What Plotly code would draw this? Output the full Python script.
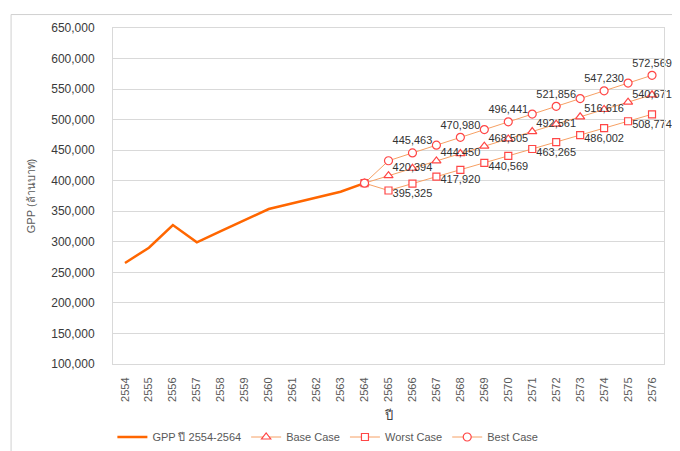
import plotly.graph_objects as go

years_hist = [str(y) for y in range(2554, 2565)]
gpp_hist = [265300, 290400, 327500, 299200, 317700, 335700, 353700, 363000, 372900, 382000, 396000]

years_proj = [str(y) for y in range(2564, 2577)]
base_case = [396000, 408360, 420394, 432420, 444450, 456480, 468505, 480530, 492561, 504590, 516616, 528640, 540671]
worst_case = [396000, 384000, 395325, 406620, 417920, 429240, 440569, 451920, 463265, 474630, 486002, 497390, 508774]
best_case = [396000, 432700, 445463, 458220, 470980, 483710, 496441, 509150, 521856, 534540, 547230, 559900, 572569]

all_years = [str(y) for y in range(2554, 2577)]


def labels(vals):
    out = []
    for i, v in enumerate(vals):
        yr = int(years_proj[i])
        out.append(f"{v:,}" if (yr >= 2566 and yr % 2 == 0) else "")
    return out


line_col = "rgb(246,160,100)"
mk_col = "rgb(255,70,70)"
txt_font = dict(family="Liberation Sans, Arial, sans-serif", size=11, color="#333333")

fig = go.Figure()
fig.add_trace(go.Scatter(
    x=years_hist, y=gpp_hist, mode="lines", name="GPP ปี 2554-2564",
    line=dict(color="rgb(255,102,0)", width=2.5)))
fig.add_trace(go.Scatter(
    x=years_proj, y=base_case, mode="lines+markers+text", name="Base Case",
    line=dict(color=line_col, width=1), cliponaxis=False,
    marker=dict(symbol="triangle-up", size=8, color="white", line=dict(color=mk_col, width=1.2)),
    text=labels(base_case), textposition="middle center", textfont=txt_font))
fig.add_trace(go.Scatter(
    x=years_proj, y=worst_case, mode="lines+markers+text", name="Worst Case",
    line=dict(color=line_col, width=1), cliponaxis=False,
    marker=dict(symbol="square", size=7, color="white", line=dict(color=mk_col, width=1.2)),
    text=labels(worst_case), textposition="bottom center", textfont=txt_font))
fig.add_trace(go.Scatter(
    x=years_proj, y=best_case, mode="lines+markers+text", name="Best Case",
    line=dict(color=line_col, width=1), cliponaxis=False,
    marker=dict(symbol="circle", size=8, color="white", line=dict(color=mk_col, width=1.2)),
    text=labels(best_case), textposition="top center", textfont=txt_font))

fig.update_layout(
    width=672, height=443,
    margin=dict(l=105, r=16, t=20, b=87),
    paper_bgcolor="white", plot_bgcolor="white",
    font=dict(family="Liberation Sans, Arial, sans-serif", size=11, color="#595959"),
    showlegend=True,
    legend=dict(orientation="h", x=0.39, xanchor="center", xref="paper",
                y=0.0316, yref="container", yanchor="middle",
                font=dict(size=11, color="#595959"), itemwidth=30, tracegroupgap=0),
    xaxis=dict(type="category", categoryorder="array", categoryarray=all_years,
               range=[-0.5, 22.5], automargin=False,
               tickangle=-90, showgrid=False, showline=True, linecolor="#D9D9D9", mirror=True,
               ticks="", ticklabelstandoff=8, tickfont=dict(size=11, color="#595959"),
               title=dict(text="ปี", font=dict(size=13, color="#404040"), standoff=11)),
    yaxis=dict(range=[100000, 650000], dtick=50000, tickformat=",", showgrid=True, automargin=False,
               gridcolor="#D9D9D9", gridwidth=1, showline=True, linecolor="#D9D9D9", mirror=True,
               zeroline=False, ticks="", ticklabelstandoff=15, tickfont=dict(size=12, color="#3a3a3a"),
               title=dict(text="GPP (ล้านบาท)", font=dict(size=11, color="#595959"), standoff=13)),
    shapes=[
        dict(type="rect", xref="paper", yref="paper", x0=-0.185, x1=1.2, y0=-0.5, y1=1.04,
             line=dict(color="#D0D0D0", width=1), fillcolor="rgba(0,0,0,0)", layer="below"),
    ],
)

fig.write_html("out.html")
